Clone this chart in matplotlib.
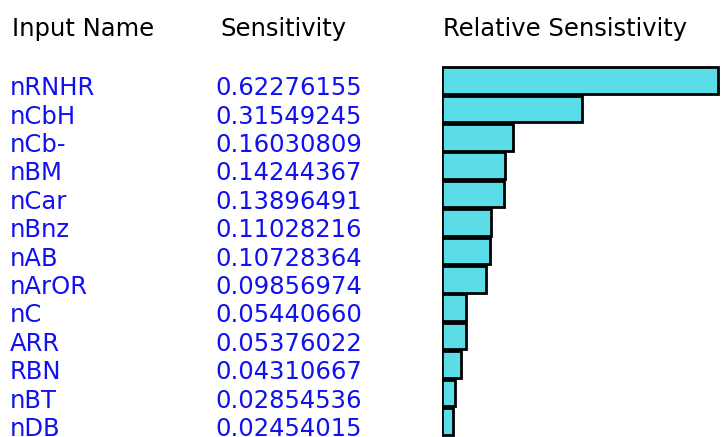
#!/usr/bin/env python3
"""
Sensitivity table with relative sensitivity bars.
"""

import matplotlib
matplotlib.use("Agg")
import matplotlib.pyplot as plt
from matplotlib.transforms import blended_transform_factory

names = ["nRNHR", "nCbH", "nCb-", "nBM", "nCar", "nBnz", "nAB",
         "nArOR", "nC", "ARR", "RBN", "nBT", "nDB"]
sens_text = ["0.62276155", "0.31549245", "0.16030809", "0.14244367",
             "0.13896491", "0.11028216", "0.10728364", "0.09856974",
             "0.05440660", "0.05376022", "0.04310667", "0.02854536",
             "0.02454015"]
sens = [float(s) for s in sens_text]

BAR_COLOR = "#5ADDE6"
NAME_COLOR = "#1010F0"
FS = 17.5

W, H = 728, 437
fig = plt.figure(figsize=(W / 100, H / 100), dpi=100)
fig.patch.set_facecolor("white")

# bar axes spans from x=442 px to the right edge; rows ~28.4 px apart
row = 28.4
y0 = 80.5
ax = fig.add_axes([442 / W, 0, (721 - 442) / W, 1])
ax.set_ylim((H - y0) / row, -y0 / row)
ax.set_xlim(0, max(sens) * 279 / 276)
ax.axis("off")

idx = list(range(len(names)))
ax.barh(idx, sens, height=0.93, left=0, color=BAR_COLOR,
        edgecolor="black", linewidth=2.0, align="center")

trans = blended_transform_factory(fig.transFigure, ax.transData)
for i in idx:
    ax.text(10 / W, i + 0.52, names[i], transform=trans, color=NAME_COLOR,
            fontsize=FS, ha="left", va="baseline", clip_on=False)
    ax.text(215 / W, i + 0.52, sens_text[i], transform=trans, color=NAME_COLOR,
            fontsize=FS, ha="left", va="baseline", clip_on=False)

head_y = 1 - 36 / H
fig.text(12 / W, head_y, "Input Name", fontsize=FS, color="black", va="baseline")
fig.text(220 / W, head_y, "Sensitivity", fontsize=FS, color="black", va="baseline")
fig.text(443 / W, head_y, "Relative Sensistivity", fontsize=FS, color="black",
         va="baseline")

fig.savefig("out.png", dpi=100, facecolor="white")
